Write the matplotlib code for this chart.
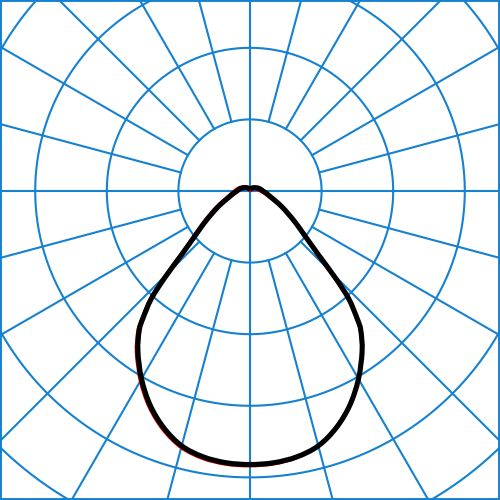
import numpy as np
import matplotlib
matplotlib.use("Agg")
import matplotlib.pyplot as plt
from matplotlib.path import Path
from matplotlib.patches import PathPatch

# Luminous intensity (grid step = 100 units), angle from nadir in degrees
angles = [0, 5, 10, 15, 20, 25, 30, 35, 38.5, 40, 42.5, 44.5, 47, 51, 55, 59, 64,
          69, 74, 81, 90, 105, 124, 142, 160, 180]
black_values = [382, 381, 377, 368.5, 352, 330, 303, 273, 248.5, 233, 204, 170, 131,
                97.8, 78.2, 62.8, 49, 37.7, 30, 23.7, 18.2, 13.5, 8.4, 5.5, 3.5, 2.4]
red_left = [383.7, 383.0, 379.3, 371.0, 354.8, 333.0, 306.2, 276.4, 252.0, 236.6, 207.6,
            173.7, 134.7, 101.6, 82.0, 66.7, 52.9, 41.6, 33.8, 27.4, 21.7, 16.4, 10.4,
            6.3, 3.1, 0.7]
red_right = [383.7, 382.4, 378.1, 369.2, 352.4, 330.1, 302.7, 272.4, 247.7, 232.0, 202.9,
             168.8, 129.6, 96.2, 76.3, 60.7, 46.6, 35.0, 27.1, 20.5, 14.7, 9.7, 4.6,
             2.0, 0.7, 0.7]

grid_radii = [100, 200, 300, 400, 500]
spoke_step = 15
scale = 0.716  # pixels per unit
grid_color = "#1581d0"

fig = plt.figure(figsize=(5, 5), dpi=100)
ax = fig.add_axes([0, 0, 1, 1])
ax.set_xlim(-250, 250)
ax.set_ylim(-309, 191)
ax.set_aspect("equal")
ax.axis("off")

t = np.linspace(0, 2 * np.pi, 721)
for r in grid_radii:
    R = r * scale
    ax.plot(R * np.cos(t), R * np.sin(t), color=grid_color, lw=1.5, zorder=1)

inner = grid_radii[0] * scale
for a in range(0, 360, spoke_step):
    rad = np.deg2rad(a)
    start = 0 if a % 90 == 0 else inner
    ax.plot([start * np.cos(rad), 1000 * np.cos(rad)],
            [start * np.sin(rad), 1000 * np.sin(rad)],
            color=grid_color, lw=1.5, zorder=1)

def curve_points(left_vals, right_vals):
    th = np.deg2rad(np.array(angles, float))
    vl = np.array(left_vals, float) * scale
    vr = np.array(right_vals, float) * scale
    th_full = np.concatenate([-th[::-1], th[1:]])
    v_full = np.concatenate([vl[::-1], vr[1:]])
    x = v_full * np.sin(th_full)
    y = -v_full * np.cos(th_full)
    return np.column_stack([x, y])

def smooth_closed_path(pts):
    # closed loop (first == last point); Catmull-Rom -> cubic Bezier
    P = pts[:-1]
    n = len(P)
    verts = [P[0]]
    codes = [Path.MOVETO]
    for i in range(n):
        p0, p1, p2, p3 = P[i - 1], P[i], P[(i + 1) % n], P[(i + 2) % n]
        c1 = p1 + (p2 - p0) / 6.0
        c2 = p2 - (p3 - p1) / 6.0
        verts += [c1, c2, p2]
        codes += [Path.CURVE4] * 3
    return Path(np.array(verts), codes)

red_path = smooth_closed_path(curve_points(red_left, red_right))
ax.add_patch(PathPatch(red_path, facecolor="none", edgecolor="#e00000", lw=2.4,
                       zorder=2, joinstyle="round"))
black_path = smooth_closed_path(curve_points(black_values, black_values))
ax.add_patch(PathPatch(black_path, facecolor="none", edgecolor="black", lw=3.7,
                       zorder=3, joinstyle="round"))

# frame
for s in [(-250, -250, -309, 191), (250, 250, -309, 191),
          (-250, 250, 191, 191), (-250, 250, -309, -309)]:
    ax.plot(s[:2], s[2:], color=grid_color, lw=2.8, zorder=4)

fig.savefig("out.png", dpi=100)
